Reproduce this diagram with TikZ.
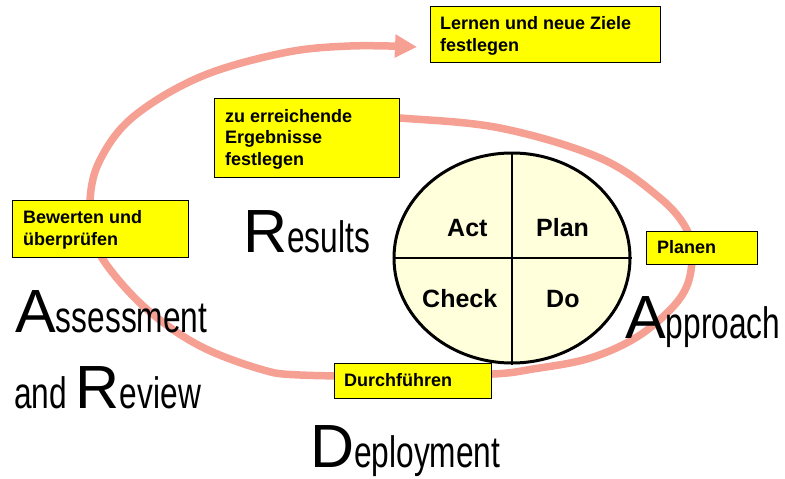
\documentclass[tikz,border=0pt]{standalone}
\usepackage{fontspec}
\setmainfont{Liberation Sans}
\usetikzlibrary{shapes.geometric,arrows.meta}
\definecolor{spiralred}{RGB}{246,160,148}
\definecolor{boxyellow}{RGB}{255,255,0}
\definecolor{pdcafill}{RGB}{255,255,220}
\tikzset{
  ybox/.style={draw=black, line width=1.4pt, fill=boxyellow, rectangle, inner sep=0pt, anchor=north west},
  ylabel/.style={inner sep=0pt, anchor=base west, font=\fontsize{18}{21.7}\selectfont\bfseries},
  pdcalabel/.style={inner sep=0pt, anchor=base west, font=\fontsize{25}{25}\selectfont\bfseries},
  bigword/.style={inner sep=0pt, anchor=base west},
  spiral/.style={draw=spiralred, line width=7.5pt, -{Triangle[width=22pt,length=22pt]}}
}
\newcommand{\Cap}[1]{{\fontsize{61}{61}\selectfont #1}}
\newcommand{\Low}[1]{\scalebox{0.72}[1]{\fontsize{44}{44}\selectfont #1}}
\begin{document}
\begin{tikzpicture}[x=1pt,y=-1pt]
\useasboundingbox[fill=white] (0,0) rectangle (785,479);
% spiral
\draw[spiral] plot[smooth, tension=0.6] coordinates {
 (360,116) (400,118) (500,128) (600,158) (660,198) (687,230) (692,258)
 (686,288) (666,314) (632,340) (587,359) (533,369) (493,374) (400,376)
 (300,375) (260,369) (200,346) (150,312) (112,272) (94,240) (90,200)
 (100,160) (133,117) (200,77) (283,53) (350,46) (417,47)};
% PDCA ellipse
\node[draw=black, line width=3pt, fill=pdcafill, ellipse, minimum width=236pt, minimum height=210pt, inner sep=0pt] (pdca) at (512,258) {};
\draw[line width=1.3pt] (pdca.north) -- (pdca.south);
\draw[line width=1.3pt] (pdca.west) -- (pdca.east);
\node[pdcalabel] (act) at (447,236) {Act};
\node[pdcalabel] (plan) at (536,236) {Plan};
\node[pdcalabel] (check) at (422,307) {Check};
\node[pdcalabel] (do) at (546,307) {Do};
% yellow boxes
\node[ybox, minimum width=230pt, minimum height=56pt] (lernenbox) at (430,6) {};
\node[ylabel] (lernen) at (440,30) {\vtop{\baselineskip=21.7pt\hbox{Lernen und neue Ziele}\hbox{festlegen}}};
\node[ybox, minimum width=185pt, minimum height=79pt] (zubox) at (214,98) {};
\node[ylabel] (zu) at (225,122) {\vtop{\baselineskip=21.5pt\hbox{zu erreichende}\hbox{Ergebnisse}\hbox{festlegen}}};
\node[ybox, minimum width=176pt, minimum height=57pt] (bewbox) at (12,200) {};
\node[ylabel] (bew) at (23,223) {\vtop{\baselineskip=22pt\hbox{Bewerten und}\hbox{überprüfen}}};
\node[ybox, minimum width=111pt, minimum height=33pt] (planenbox) at (646,231) {};
\node[ylabel] (planen) at (657,253) {Planen};
\node[ybox, minimum width=157pt, minimum height=35pt] (durchbox) at (334,363) {};
\node[ylabel] (durch) at (344,386) {Durchführen};
% big words
\node[bigword] (results) at (243,252) {\Cap{R}\Low{esults}};
\node[bigword] (assess) at (15,332) {\Cap{A}\Low{ssessment}};
\node[bigword] (review) at (14,408) {\Low{and }\Cap{R}\Low{eview}};
\node[bigword] (deploy) at (310,467) {\Cap{D}\Low{eployment}};
\node[bigword] (approach) at (625,338) {\Cap{A}\Low{pproach}};
\end{tikzpicture}
\end{document}
